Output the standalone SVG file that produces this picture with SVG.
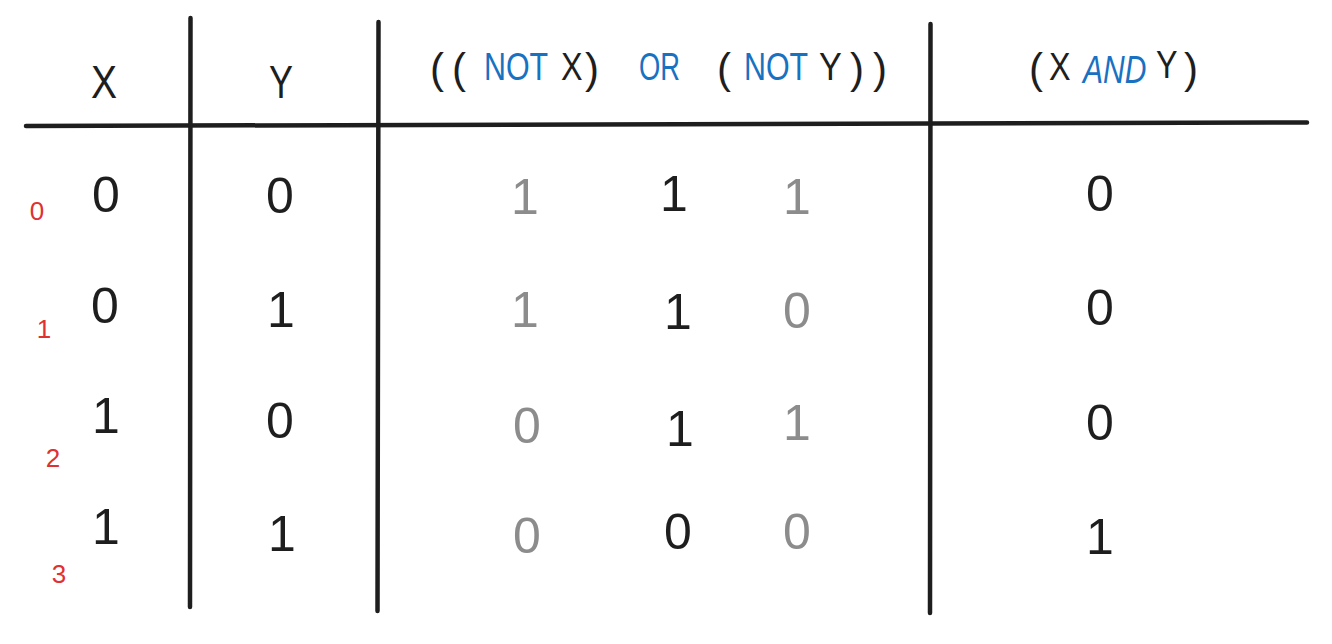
<svg xmlns="http://www.w3.org/2000/svg" width="1332" height="644" viewBox="0 0 1332 644">
<style>
.ln{fill:none;stroke:#1e1e1e;stroke-width:4.5;stroke-linecap:round}
text{font-family:"Liberation Sans","DejaVu Sans",sans-serif}
.h{font-size:46px;fill:#1e1e1e}
.e{font-size:38px;fill:#1e1e1e}
.p{font-size:42px;fill:#1e1e1e}
.b{fill:#1971c2}
.d{font-size:50px;text-anchor:middle;fill:#1e1e1e}
.g{fill:#8c8c8c}
.r{font-size:26px;text-anchor:middle;fill:#e03131}
</style>
<rect width="1332" height="644" fill="#ffffff"/>
<g id="connectors">
<path class="ln" d="M26 126 Q600 124.5 1307 122.5"/>
<path class="ln" d="M190.5 18 Q191.5 300 190 607"/>
<path class="ln" d="M378.5 22 Q378 320 377.5 611"/>
<path class="ln" d="M930.5 24 Q929.5 320 930 613"/>
</g>
<g id="header-x"><text class="h" x="104" y="98" text-anchor="middle" textLength="26" lengthAdjust="spacingAndGlyphs">X</text></g>
<g id="header-y"><text class="h" x="281" y="98" text-anchor="middle" textLength="24" lengthAdjust="spacingAndGlyphs">Y</text></g>
<g id="header-expr">
<text class="p" x="430" y="83">(</text>
<text class="p" x="452" y="83">(</text>
<text class="e b" transform="translate(484 80) scale(0.8 1)">NOT</text>
<text class="e" transform="translate(561 80) scale(0.85 1)">X</text>
<text class="p" x="585" y="83">)</text>
<text class="e b" transform="translate(639 80) scale(0.72 1)">OR</text>
<text class="p" x="717" y="83">(</text>
<text class="e b" transform="translate(744 80) scale(0.8 1)">NOT</text>
<text class="e" transform="translate(819 80) scale(0.9 1)">Y</text>
<text class="p" x="850" y="83">)</text>
<text class="p" x="873" y="83">)</text>
</g>
<g id="header-and">
<text class="p" x="1029" y="83">(</text>
<text class="e" transform="translate(1049 80) scale(0.85 1)">X</text>
<text class="e b" font-style="italic" transform="translate(1083 83) scale(0.79 1)">AND</text>
<text class="e" transform="translate(1156 78) scale(0.85 1)">Y</text>
<text class="p" x="1184" y="83">)</text>
</g>
<g id="row-0">
<text class="r" x="37" y="220">0</text>
<text class="d" x="106" y="212">0</text>
<text class="d" x="280" y="213">0</text>
<text class="d g" x="525" y="214">1</text>
<text class="d" x="674" y="211">1</text>
<text class="d g" x="797" y="214">1</text>
<text class="d" x="1100" y="211">0</text>
</g>
<g id="row-1">
<text class="r" x="44" y="338">1</text>
<text class="d" x="105" y="323">0</text>
<text class="d" x="281" y="327">1</text>
<text class="d g" x="525" y="327">1</text>
<text class="d" x="678" y="329">1</text>
<text class="d g" x="797" y="328">0</text>
<text class="d" x="1100" y="325">0</text>
</g>
<g id="row-2">
<text class="r" x="53" y="467">2</text>
<text class="d" x="106" y="433">1</text>
<text class="d" x="280" y="438">0</text>
<text class="d g" x="527" y="443">0</text>
<text class="d" x="680" y="446">1</text>
<text class="d g" x="797" y="440">1</text>
<text class="d" x="1100" y="440">0</text>
</g>
<g id="row-3">
<text class="r" x="59" y="583">3</text>
<text class="d" x="106" y="544">1</text>
<text class="d" x="282" y="551">1</text>
<text class="d g" x="527" y="553">0</text>
<text class="d" x="678" y="549">0</text>
<text class="d g" x="797" y="549">0</text>
<text class="d" x="1100" y="554">1</text>
</g>
</svg>
